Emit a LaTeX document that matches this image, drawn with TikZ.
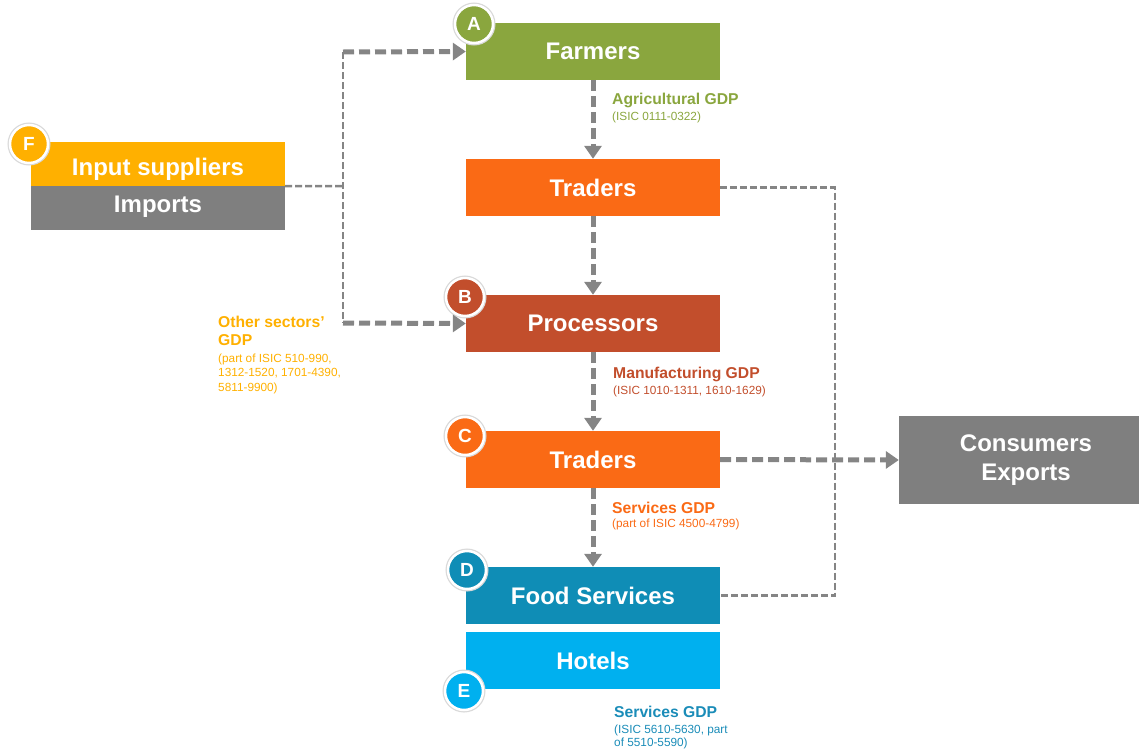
\documentclass[tikz,border=0pt]{standalone}
\usepackage{fontspec}
\setmainfont{Liberation Sans}
\usetikzlibrary{arrows.meta}
\definecolor{cgreen}{HTML}{8AA63E}
\definecolor{corange}{HTML}{FA6A15}
\definecolor{cred}{HTML}{C24E2C}
\definecolor{cteal}{HTML}{0F8DB6}
\definecolor{csky}{HTML}{00B0EF}
\definecolor{cyellow}{HTML}{FFB000}
\definecolor{cgray}{HTML}{7F7F7F}
\definecolor{clink}{HTML}{858585}
\definecolor{ctealtext}{HTML}{1A8CB8}
\begin{document}
\begin{tikzpicture}[x=1pt,y=-1pt,
  box/.style={rectangle, minimum width=254pt, minimum height=57pt, inner sep=0pt,
    text=white, font=\fontsize{24}{28.5}\selectfont\bfseries, align=center},
  halfbox/.style={rectangle, minimum width=254pt, minimum height=44pt, inner sep=0pt,
    text=white, font=\fontsize{24}{29}\selectfont\bfseries},
  badge/.style={circle, minimum size=38pt, inner sep=0pt, draw=white, line width=2.5pt,
    preaction={draw=black!15, line width=5pt},
    text=white, font=\fontsize{19}{20}\selectfont\bfseries},
  gdp/.style={anchor=base west, inner sep=0pt, font=\fontsize{15.7}{18}\selectfont\bfseries},
  isic/.style={anchor=base west, inner sep=0pt, font=\fontsize{11.8}{15}\selectfont},
  flow/.style={draw=clink, line width=5pt, dash pattern=on 11pt off 5pt,
    -{Triangle[length=13pt,width=17pt]}},
  thin/.style={draw=clink, line width=2.5pt, dash pattern=on 7pt off 3pt},
]
\useasboundingbox (0,0) rectangle (1139,750);

% boxes
\node[box, fill=cgreen]  (farm)  at (593,51.5)  {Farmers};
\node[box, fill=corange] (trad1) at (593,187.5) {Traders};
\node[box, fill=cred]    (proc)  at (593,323.5) {Processors};
\node[box, fill=corange] (trad2) at (593,459.5) {Traders};
\node[box, fill=cteal]   (food)  at (593,595.5) {Food Services};
\node[box, fill=csky]    (hotel) at (593,660.5) {Hotels};
\node[halfbox, fill=cyellow, text height=22pt, text depth=0pt] (inp) at (158,164) {Input suppliers};
\node[halfbox, fill=cgray, text height=17pt, text depth=9pt]   (imp) at (158,208) {Imports};
\node[box, fill=cgray, minimum height=88pt] (cons) at (1026,460)
  {Consumers\\Exports};

% badges
\node[badge, fill=cgreen]  (bA) at (474,24)  {A};
\node[badge, fill=cred]    (bB) at (465,297) {B};
\node[badge, fill=corange] (bC) at (465,436) {C};
\node[badge, fill=cteal]   (bD) at (467,570) {D};
\node[badge, fill=csky]    (bE) at (464,691) {E};
\node[badge, fill=cyellow] (bF) at (29,144)  {F};

% junction coordinates
\coordinate (jin)  at (343,186);
\coordinate (jtop) at (343,52);
\coordinate (jbot) at (343,323);
\coordinate (rtop) at (835,187.5);
\coordinate (rbot) at (835,595.5);

% thin connectors
\draw[thin] (inp.south east) -- (jin);
\draw[thin] (jtop) -- (jbot);
\draw[thin] (trad1.east) -- (rtop) -- (rbot) -- (food.east);

% flow arrows
\draw[flow] (jtop) -- (farm.west);
\draw[flow] (jbot) -- (proc.west);
\draw[flow] (farm.south) -- (trad1.north);
\draw[flow] (trad1.south) -- (proc.north);
\draw[flow] (proc.south) -- (trad2.north);
\draw[flow] (trad2.south) -- (food.north);
\draw[flow] (trad2.east) -- (cons.west);

% labels
\node[gdp, text=cgreen] (lagr) at (612,104) {Agricultural GDP};
\node[isic, text=cgreen] (lagr2) at (612,120) {(ISIC 0111-0322)};
\node[gdp, text=cred] (lman) at (613,378) {Manufacturing GDP};
\node[isic, text=cred] (lman2) at (613,394) {(ISIC 1010-1311, 1610-1629)};
\node[gdp, text=corange] (lser) at (612,513) {Services GDP};
\node[isic, text=corange] (lser2) at (612,527) {(part of ISIC 4500-4799)};
\node[gdp, text=ctealtext] (lhot) at (614,717) {Services GDP};
\node[isic, text=ctealtext] (lhot2) at (614,733) {(ISIC 5610-5630, part};
\node[isic, text=ctealtext] (lhot3) at (614,746) {of 5510-5590)};
\node[gdp, text=cyellow] (loth) at (218,327) {Other sectors’};
\node[gdp, text=cyellow] (lothb) at (218,345) {GDP};
\node[isic, text=cyellow] (loth2) at (218,362) {(part of ISIC 510-990,};
\node[isic, text=cyellow] (loth3) at (218,376.5) {1312-1520, 1701-4390,};
\node[isic, text=cyellow] (loth4) at (218,391) {5811-9900)};
\end{tikzpicture}
\end{document}
